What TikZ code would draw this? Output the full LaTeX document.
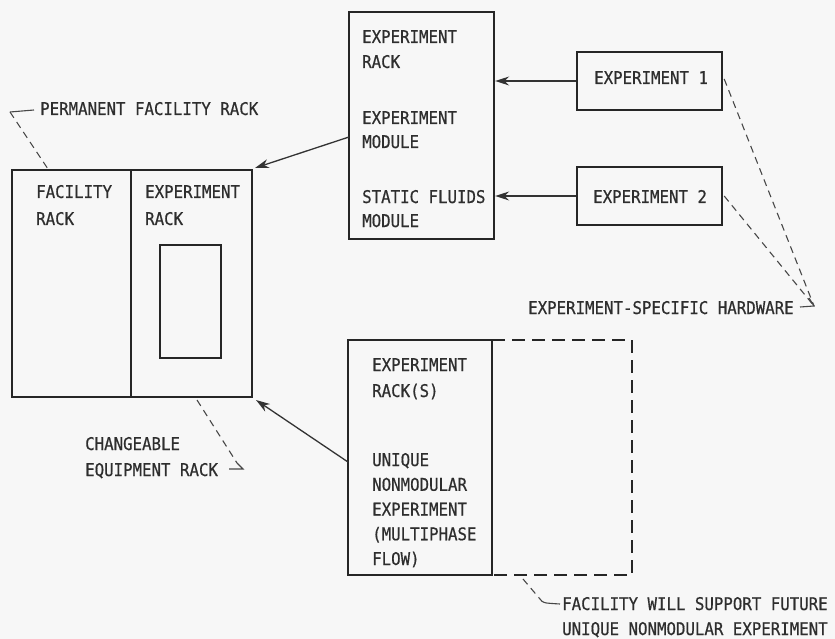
\documentclass[tikz,border=0pt]{standalone}
\usepackage{fontspec}
\setmonofont[FakeStretch=0.9,FakeBold=0.6]{DejaVu Sans Mono}
\usetikzlibrary{arrows.meta}
\begin{document}
\begin{tikzpicture}[x=1pt,y=-1pt,
  box/.style={draw=black!85,line width=2.4pt,inner sep=0pt},
  lbl/.style={anchor=base west,inner sep=0pt,text=black!82,
    font=\ttfamily\fontsize{17.5}{#1}\selectfont,align=left},
  lbl/.default=25,
  feed/.style={draw=black!80,line width=1.3pt,
    -{Stealth[length=14pt,width=9pt]}},
  leader/.style={draw=black!72,line width=1.1pt,dash pattern=on 7pt off 5pt},
  tick/.style={draw=black!72,line width=1.1pt}]
% page
\fill[black!3] (0,0) rectangle (835,639);
\useasboundingbox (0,0) rectangle (835,639);

% multi-line labels are placed by the baseline of their last line

% permanent rack with changeable half
\node[box,minimum width=240pt,minimum height=227pt] (rack) at (132,283.5) {};
\coordinate (divtop) at (131,170);
\coordinate (divbot) at (131,397);
\draw[black!85,line width=2.4pt] (divtop) -- (divbot);
\node[box,minimum width=61pt,minimum height=113pt] (window) at (190.5,301.5) {};
\node[lbl=27] (facrack) at (36,225) {FACILITY\\RACK};
\node[lbl=27] (exprackL) at (145,225) {EXPERIMENT\\RACK};

% modular experiment rack
\node[box,minimum width=145pt,minimum height=227pt] (mid) at (421.5,125.5) {};
\node[lbl] (m1) at (362,68) {EXPERIMENT\\RACK};
\node[lbl=24] (m2) at (362,148) {EXPERIMENT\\MODULE};
\node[lbl=24] (m3) at (362,227) {STATIC FLUIDS\\MODULE};

% experiments
\node[box,minimum width=145pt,minimum height=58pt] (exp1) at (649.5,81) {};
\node[lbl] (e1) at (594,84) {EXPERIMENT 1};
\node[box,minimum width=145pt,minimum height=58pt] (exp2) at (649.5,196) {};
\node[lbl] (e2) at (593,203) {EXPERIMENT 2};

% nonmodular rack and its future extension
\node[box,minimum width=144pt,minimum height=235pt] (low) at (420,457.5) {};
\coordinate (extA) at (492,340);
\coordinate (extB) at (632,340);
\coordinate (extC) at (632,575);
\coordinate (extD) at (492,575);
\draw[black!85,line width=2.4pt,dash pattern=on 13pt off 7pt] (extA) -- (extB) -- (extC) -- (extD);
\node[lbl=26] (l1) at (372,397) {EXPERIMENT\\RACK(S)};
\node[lbl=24.75] (l2) at (372,565) {UNIQUE\\NONMODULAR\\EXPERIMENT\\(MULTIPHASE\\FLOW)};

% feeds
\draw[feed] (exp1.west) -- (exp1.west -| mid.east);
\draw[feed] (exp2.west) -- (exp2.west -| mid.east);
\coordinate (midout) at (349,137);
\coordinate (rackNE) at (255,168);
\draw[feed] (midout) -- (rackNE);
\coordinate (lowout) at (348,462);
\coordinate (rackSE) at (256,400);
\draw[feed] (lowout) -- (rackSE);

% callouts
\node[lbl] (perm) at (40,115) {PERMANENT FACILITY RACK};
\coordinate (pA) at (34,110);
\coordinate (pB) at (10,112);
\coordinate (pC) at (48,169);
\draw[tick] (pA) -- (pB);
\draw[leader] (pB) -- (pC);

\node[lbl=26] (chg) at (85,476) {CHANGEABLE\\EQUIPMENT RACK};
\coordinate (cA) at (197,400);
\coordinate (cB) at (237,463);
\coordinate (cC) at (243,469);
\coordinate (cD) at (229,469);
\draw[leader] (cA) -- (cB);
\draw[tick] (cB) -- (cC) -- (cD);

\node[lbl] (hw) at (528,314) {EXPERIMENT-SPECIFIC HARDWARE};
\coordinate (hA) at (814,306);
\coordinate (hB) at (800,307);
\draw[leader] (exp1.east) ++(1,-2) -- (hA);
\draw[leader] (exp2.east) ++(1,0) -- (hA);
\draw[tick] (hB) -- (hA) -- (809,298);

\node[lbl] (fut) at (562,635) {FACILITY WILL SUPPORT FUTURE\\UNIQUE NONMODULAR EXPERIMENT};
\coordinate (fA) at (523,579);
\coordinate (fB) at (540,599);
\coordinate (fC) at (560,604);
\draw[leader] (fA) -- (fB);
\draw[tick] (fB) .. controls (543,603) .. (fC);
\end{tikzpicture}
\end{document}
